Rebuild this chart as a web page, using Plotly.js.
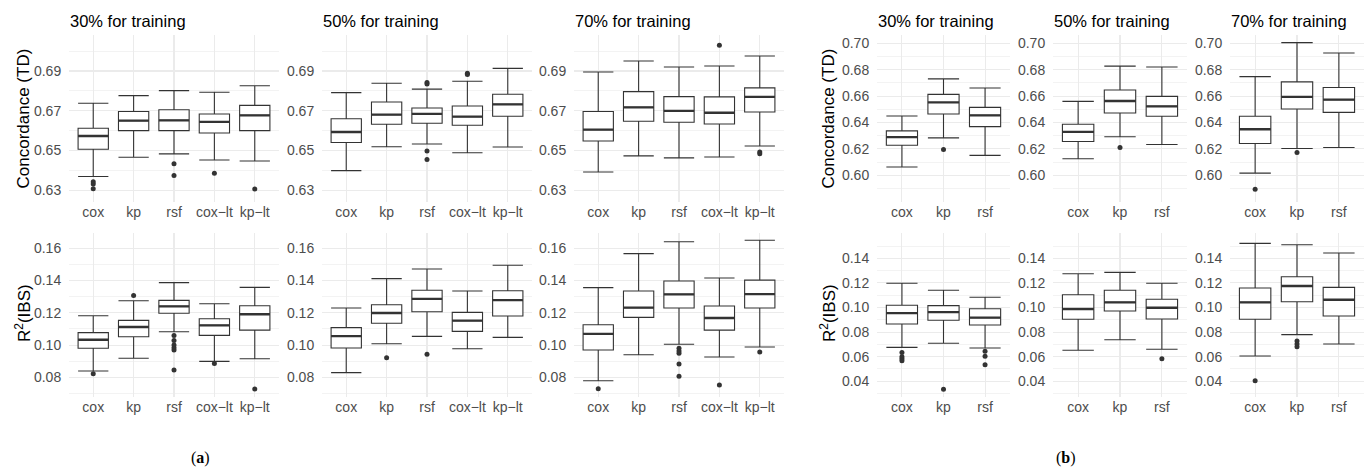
<!DOCTYPE html>
<html><head><meta charset="utf-8">
<script src="https://cdn.plot.ly/plotly-3.0.1.min.js"></script>
<style>html,body{margin:0;padding:0;background:#fff}#chart{width:1368px;height:475px}</style>
</head><body><div id="chart"></div>
<script>
// ---- categories / labels ----
const catsA = ['cox','kp','rsf','cox\u2212lt','kp\u2212lt'];
const catsB = ['cox','kp','rsf'];
const splitTitles = ['30% for training','50% for training','70% for training'];
const yTitleTD = 'Concordance (TD)';
const yTitleIBS = 'R<sup>2</sup>(IBS)';
const ticksATD = [0.63,0.65,0.67,0.69];
const ticksAIBS = [0.08,0.10,0.12,0.14,0.16];
const ticksBTD = [0.60,0.62,0.64,0.66,0.68,0.70];
const ticksBIBS = [0.04,0.06,0.08,0.10,0.12,0.14];

// ---- panel (a): Concordance (TD) ----
const aTD30 = {lo:[0.6369,0.6466,0.6483,0.6452,0.6447], q1:[0.6506,0.6600,0.6600,0.6588,0.6600], med:[0.6573,0.6650,0.6652,0.6644,0.6677], q3:[0.6612,0.6696,0.6705,0.6684,0.6727], hi:[0.6738,0.6776,0.6801,0.6793,0.6826],
  outCat:['cox','cox','cox','rsf','rsf','cox\u2212lt','kp\u2212lt'], outVal:[0.6343,0.6332,0.6308,0.6434,0.6374,0.6385,0.6307]};
const aTD50 = {lo:[0.6399,0.6519,0.6533,0.6489,0.6518], q1:[0.6540,0.6632,0.6637,0.6627,0.6672], med:[0.6593,0.6680,0.6684,0.6670,0.6732], q3:[0.6660,0.6744,0.6714,0.6724,0.6783], hi:[0.6791,0.6838,0.6809,0.6848,0.6913],
  outCat:['rsf','rsf','rsf','rsf','cox\u2212lt','cox\u2212lt'], outVal:[0.6842,0.6835,0.6498,0.6455,0.6889,0.6882]};
const aTD70 = {lo:[0.6392,0.6473,0.6463,0.6467,0.6523], q1:[0.6548,0.6647,0.6642,0.6633,0.6694], med:[0.6605,0.6717,0.6699,0.6690,0.6770], q3:[0.6696,0.6796,0.6771,0.6770,0.6815], hi:[0.6895,0.6950,0.6920,0.6925,0.6975],
  outCat:['cox\u2212lt','kp\u2212lt','kp\u2212lt'], outVal:[0.7030,0.6492,0.6484]};
// ---- panel (a): R2(IBS) ----
const aIBS30 = {lo:[0.0839,0.0918,0.1083,0.0899,0.0915], q1:[0.0980,0.1052,0.1197,0.1060,0.1093], med:[0.1033,0.1112,0.1240,0.1122,0.1191], q3:[0.1077,0.1153,0.1277,0.1163,0.1244], hi:[0.1182,0.1275,0.1387,0.1256,0.1358],
  outCat:['cox','kp','rsf','rsf','rsf','rsf','rsf','rsf','cox\u2212lt','kp\u2212lt'], outVal:[0.0822,0.1308,0.1060,0.1029,0.1000,0.0984,0.0969,0.0845,0.0885,0.0727]};
const aIBS50 = {lo:[0.0829,0.1008,0.1054,0.0977,0.1048], q1:[0.0982,0.1135,0.1207,0.1085,0.1180], med:[0.1056,0.1199,0.1286,0.1151,0.1279], q3:[0.1108,0.1250,0.1340,0.1203,0.1337], hi:[0.1230,0.1412,0.1472,0.1335,0.1495],
  outCat:['kp','rsf'], outVal:[0.0922,0.0943]};
const aIBS70 = {lo:[0.0779,0.0940,0.1005,0.0926,0.0988], q1:[0.0969,0.1172,0.1230,0.1093,0.1230], med:[0.1070,0.1232,0.1315,0.1168,0.1316], q3:[0.1126,0.1335,0.1397,0.1242,0.1403], hi:[0.1356,0.1567,0.1641,0.1416,0.1650],
  outCat:['cox','rsf','rsf','rsf','rsf','rsf','cox\u2212lt','kp\u2212lt'], outVal:[0.0729,0.0980,0.0963,0.0950,0.0882,0.0806,0.0752,0.0957]};
// ---- panel (b): Concordance (TD) ----
const bTD30 = {lo:[0.6063,0.6284,0.6151], q1:[0.6228,0.6465,0.6369], med:[0.6289,0.6552,0.6454], q3:[0.6337,0.6613,0.6515], hi:[0.6450,0.6731,0.6661], outCat:['kp'], outVal:[0.6196]};
const bTD50 = {lo:[0.6126,0.6292,0.6234], q1:[0.6256,0.6472,0.6447], med:[0.6329,0.6563,0.6522], q3:[0.6387,0.6646,0.6598], hi:[0.6560,0.6827,0.6821], outCat:['kp'], outVal:[0.6211]};
const bTD70 = {lo:[0.6017,0.6203,0.6211], q1:[0.6241,0.6503,0.6477], med:[0.6349,0.6595,0.6573], q3:[0.6447,0.6708,0.6665], hi:[0.6748,0.7005,0.6927], outCat:['cox','kp'], outVal:[0.5895,0.6173]};
// ---- panel (b): R2(IBS) ----
const bIBS30 = {lo:[0.0676,0.0709,0.0671], q1:[0.0866,0.0896,0.0858], med:[0.0955,0.0963,0.0917], q3:[0.1018,0.1015,0.0990], hi:[0.1197,0.1140,0.1083],
  outCat:['cox','cox','cox','cox','kp','rsf','rsf','rsf'], outVal:[0.0633,0.0600,0.0584,0.0567,0.0335,0.0644,0.0603,0.0535]};
const bIBS50 = {lo:[0.0652,0.0738,0.0660], q1:[0.0904,0.0972,0.0907], med:[0.0988,0.1042,0.0998], q3:[0.1104,0.1140,0.1067], hi:[0.1275,0.1286,0.1197], outCat:['rsf'], outVal:[0.0584]};
const bIBS70 = {lo:[0.0606,0.0779,0.0703], q1:[0.0904,0.1047,0.0931], med:[0.1042,0.1175,0.1063], q3:[0.1159,0.1250,0.1164], hi:[0.1522,0.1511,0.1443], outCat:['cox','kp','kp','kp'], outVal:[0.0405,0.0728,0.0703,0.0681]};

// ---- layout geometry (pixels) ----
const W = 1368, H = 475;
const colsA = [[69,279],[322,532],[574,784]];
const colsB = [[877,1010],[1053,1187],[1230,1364]];
const rowTop = [35,202], rowBot = [233,397];
const rangeATD = [0.6241,0.7081], rangeAIBS = [0.0678,0.1695];
const rangeBTD = [0.5798,0.7063], rangeBIBS = [0.0272,0.1606];

const INK = '#333333', GRID = '#EBEBEB', TICK = '#4D4D4D', FONT = 'Liberation Sans, Arial, sans-serif';
const traces = [];
const layout = {width:W, height:H, margin:{l:0,r:0,t:0,b:0}, paper_bgcolor:'#fff', plot_bgcolor:'#fff',
  showlegend:false, boxmode:'overlay', font:{family:FONT}, annotations:[]};

function axName(i, p){ return p + (i===1 ? '' : i); }

function addFacet(i, d, cats, col, row, yrange, ticks){
  const xa = axName(i,'x'), ya = axName(i,'y');
  layout[axName(i,'xaxis')] = {domain:[col[0]/W, col[1]/W], anchor:ya, type:'category', categoryorder:'array', categoryarray:cats,
    range:[-0.6, cats.length-0.4], showgrid:true, gridcolor:GRID, gridwidth:1.1, zeroline:false, showline:false,
    ticks:'', tickfont:{size:14, color:TICK, family:FONT}, fixedrange:true};
  layout[axName(i,'yaxis')] = {domain:[1-row[1]/H, 1-row[0]/H], anchor:xa, range:yrange, tickmode:'array', tickvals:ticks,
    ticktext:ticks.map(v=>v.toFixed(2)), showgrid:true, gridcolor:GRID, gridwidth:1.1, zeroline:false, showline:false,
    minor:{tickmode:'linear', tick0:0, dtick:0.01, showgrid:true, gridcolor:GRID, gridwidth:0.6, ticks:''},
    ticks:'outside', ticklen:4, tickcolor:'rgba(0,0,0,0)', tickfont:{size:14, color:TICK, family:FONT}, fixedrange:true};
  traces.push({type:'box', x:cats, q1:d.q1, median:d.med, q3:d.q3, lowerfence:d.lo, upperfence:d.hi, xaxis:xa, yaxis:ya,
    width:0.75, whiskerwidth:1, fillcolor:'#ffffff', line:{color:INK, width:1.1}, boxpoints:false, hoverinfo:'skip'});
  traces.push({type:'box', x:cats, q1:d.med, median:d.med, q3:d.med, lowerfence:d.med, upperfence:d.med, xaxis:xa, yaxis:ya,
    width:0.75, whiskerwidth:0, fillcolor:'rgba(0,0,0,0)', line:{color:INK, width:2.3}, boxpoints:false, hoverinfo:'skip'});
  traces.push({type:'scatter', mode:'markers', x:d.outCat, y:d.outVal, xaxis:xa, yaxis:ya,
    marker:{size:5, color:INK}, hoverinfo:'skip', cliponaxis:false});
}

const aTop = [aTD30,aTD50,aTD70], aBot = [aIBS30,aIBS50,aIBS70];
const bTop = [bTD30,bTD50,bTD70], bBot = [bIBS30,bIBS50,bIBS70];
for (let k=0;k<3;k++){
  addFacet(1+k, aTop[k], catsA, colsA[k], rowTop, rangeATD, ticksATD);
  addFacet(4+k, aBot[k], catsA, colsA[k], rowBot, rangeAIBS, ticksAIBS);
  addFacet(7+k, bTop[k], catsB, colsB[k], rowTop, rangeBTD, ticksBTD);
  addFacet(10+k, bBot[k], catsB, colsB[k], rowBot, rangeBIBS, ticksBIBS);
}

function note(text, xpx, ypx, opts){
  layout.annotations.push(Object.assign({text:text, x:xpx/W, y:1-ypx/H, xref:'paper', yref:'paper', showarrow:false,
    xanchor:'center', yanchor:'middle', font:{family:FONT, size:16, color:'#000'}}, opts||{}));
}
for (let k=0;k<3;k++){
  note(splitTitles[k], colsA[k][0]-1, 21, {xanchor:'left', font:{family:FONT, size:16.5, color:'#000'}});
  note(splitTitles[k], colsB[k][0]-1, 21, {xanchor:'left', font:{family:FONT, size:16.5, color:'#000'}});
}
note(yTitleTD, 23, 118.5, {textangle:-90, font:{family:FONT, size:17, color:'#000'}});
note(yTitleIBS, 23, 313, {textangle:-90, font:{family:FONT, size:17, color:'#000'}});
note(yTitleTD, 828, 118.5, {textangle:-90, font:{family:FONT, size:17, color:'#000'}});
note(yTitleIBS, 828, 313, {textangle:-90, font:{family:FONT, size:17, color:'#000'}});
note('(<b>a</b>)', 200, 458, {font:{family:'Liberation Serif, serif', size:16, color:'#000'}});
note('(<b>b</b>)', 1066, 458, {font:{family:'Liberation Serif, serif', size:16, color:'#000'}});

Plotly.newPlot('chart', traces, layout, {staticPlot:true, displayModeBar:false});
</script></body></html>
